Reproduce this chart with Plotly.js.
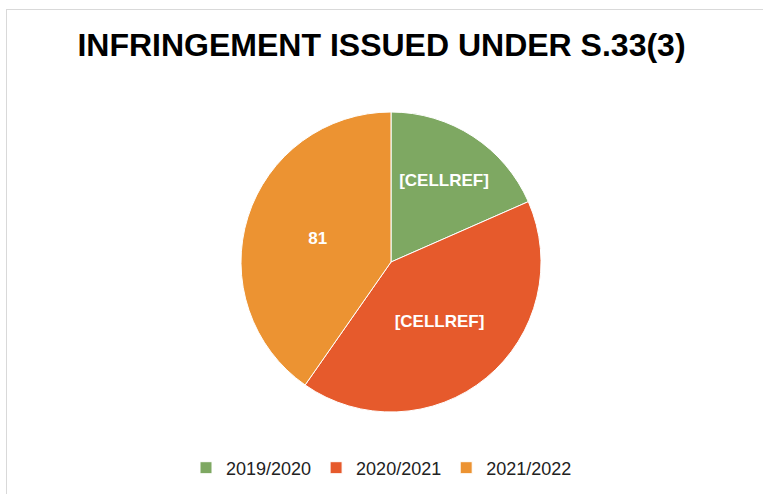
<!DOCTYPE html>
<html>
<head>
<meta charset="utf-8">
<script src="https://cdn.plot.ly/plotly-3.0.1.min.js"></script>
<style>
html,body{margin:0;padding:0;background:#fff;}
#wrap{position:absolute;left:0;top:0;width:763px;height:494px;}
#frame{position:absolute;left:6px;top:9px;width:800px;height:600px;border-left:1px solid #d9d9d9;border-top:1px solid #d9d9d9;pointer-events:none;}
#chart{position:absolute;left:0;top:0;width:763px;height:494px;}
</style>
</head>
<body>
<div id="wrap"><div id="chart"></div><div id="frame"></div></div>
<script>
const categories = ["2019/2020", "2020/2021", "2021/2022"];
const values = [37, 83, 81];
const sliceLabels = ["[CELLREF]", "[CELLREF]", "81"];
const colors = ["#7EA862", "#E65A2C", "#EC9332"];

const W = 763, H = 494;
const cx = 391, cy = 262, r = 150;

const data = [{
  type: "pie",
  labels: categories,
  values: values,
  text: sliceLabels,
  textinfo: "text",
  textposition: "inside",
  insidetextorientation: "horizontal",
  sort: false,
  direction: "clockwise",
  rotation: 0,
  marker: {colors: colors, line: {color: "#ffffff", width: 1}},
  textfont: {family: "Liberation Sans, Arial", size: 17, color: "#ffffff", weight: "bold"},
  domain: {x: [(cx - r) / W, (cx + r) / W], y: [1 - (cy + r) / H, 1 - (cy - r) / H]},
  hoverinfo: "label+value"
}];

const layout = {
  width: W, height: H,
  margin: {l: 0, r: 0, t: 0, b: 0},
  paper_bgcolor: "#ffffff",
  title: {
    text: "<b>INFRINGEMENT ISSUED UNDER S.33(3)</b>",
    font: {family: "Liberation Sans, Arial", size: 32, color: "#000000"},
    x: 0.5, xanchor: "center", y: 1 - 45 / H, yanchor: "middle"
  },
  showlegend: true,
  legend: {
    orientation: "h", x: 0.5, xanchor: "center", y: 1 - 468 / H, yanchor: "middle",
    font: {family: "Liberation Sans, Arial", size: 18, color: "#222222"},
    traceorder: "normal"
  }
};

Plotly.newPlot("chart", data, layout, {displayModeBar: false, staticPlot: true});
</script>
</body>
</html>
